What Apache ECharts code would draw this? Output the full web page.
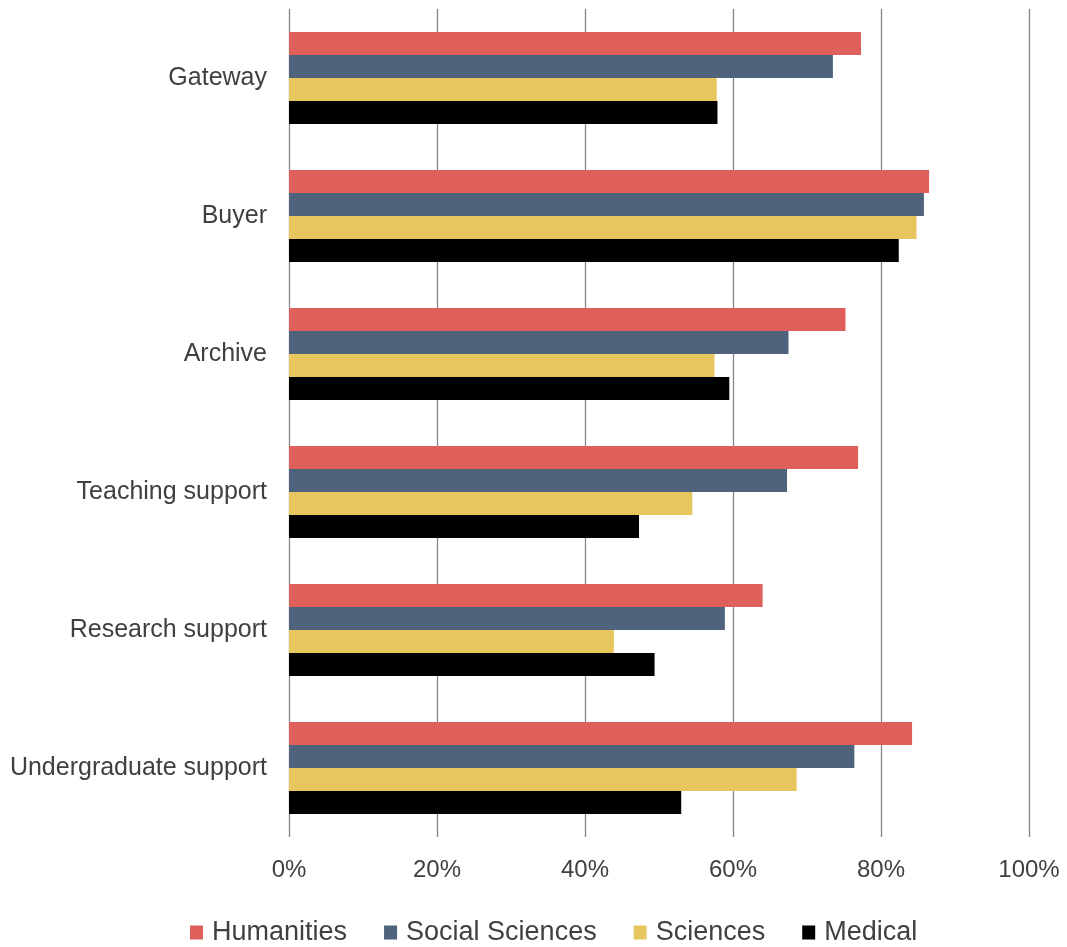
<!DOCTYPE html>
<html>
<head>
<meta charset="utf-8">
<script src="https://cdn.jsdelivr.net/npm/echarts@6/dist/echarts.min.js"></script>
<style>
  html, body { margin: 0; padding: 0; background: #fff; }
  #chart { width: 1067px; height: 947px; }
</style>
</head>
<body>
<div id="chart"></div>
<script>
const categories = ['Gateway', 'Buyer', 'Archive', 'Teaching support', 'Research support', 'Undergraduate support'];
const seriesNames = ['Humanities', 'Social Sciences', 'Sciences', 'Medical'];
const humanities = [77.3, 86.5, 75.2, 76.9, 64.0, 84.2];
const socialSciences = [73.5, 85.8, 67.5, 67.3, 58.9, 76.4];
const sciences = [57.8, 84.8, 57.5, 54.5, 43.9, 68.6];
const medical = [57.9, 82.4, 59.5, 47.3, 49.4, 53.0];
const xTicks = [0, 20, 40, 60, 80, 100];

const colors = ['#DF605A', '#4F637D', '#E7C65E', '#000000'];
const seriesData = [humanities, socialSciences, sciences, medical];
const fontFamily = '"Liberation Sans", Arial, Helvetica, sans-serif';
const textColor = '#404040';

const chart = echarts.init(document.getElementById('chart'), null, { renderer: 'canvas' });
chart.setOption({
  animation: false,
  backgroundColor: '#ffffff',
  color: colors,
  textStyle: { fontFamily: fontFamily },
  grid: { left: 289, right: 38, top: 9, bottom: 110, containLabel: false },
  legend: {
    left: 185,
    top: 914,
    itemWidth: 13,
    itemHeight: 14,
    itemGap: 37,
    icon: 'rect',
    textStyle: { fontSize: 27, color: textColor, fontFamily: fontFamily, padding: [0, 0, 0, 4] },
    data: seriesNames
  },
  xAxis: {
    type: 'value',
    min: xTicks[0],
    max: xTicks[xTicks.length - 1],
    interval: 20,
    axisLine: { show: false },
    axisTick: { show: false },
    splitLine: { show: true, lineStyle: { color: '#888888', width: 1.3 } },
    axisLabel: {
      fontSize: 24,
      color: textColor,
      fontFamily: fontFamily,
      margin: 21,
      formatter: v => v + '%'
    }
  },
  yAxis: {
    type: 'category',
    inverse: true,
    data: categories,
    axisLine: { show: false },
    axisTick: { show: false },
    splitLine: { show: false },
    axisLabel: { fontSize: 25, color: textColor, fontFamily: fontFamily, margin: 22, padding: [6, 0, 0, 0] }
  },
  series: seriesNames.map((name, i) => ({
    name: name,
    type: 'bar',
    data: seriesData[i],
    barWidth: 23,
    barGap: '0%',
    itemStyle: { color: colors[i] }
  }))
});
</script>
</body>
</html>
